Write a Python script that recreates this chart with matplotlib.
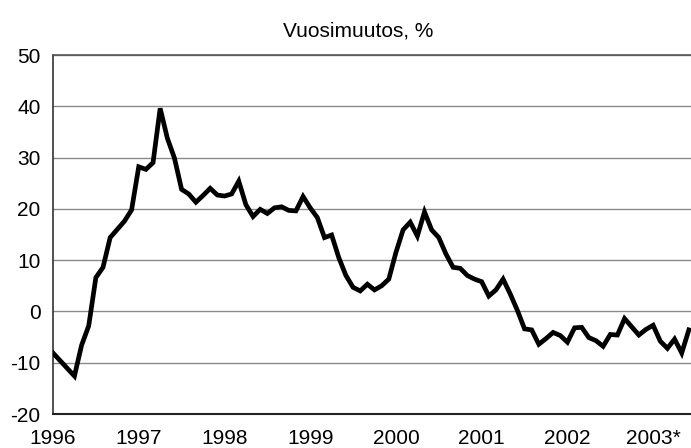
import matplotlib
matplotlib.use("Agg")
import matplotlib.pyplot as plt
import numpy as np

plt.rcParams['font.family'] = ['Liberation Sans Narrow', 'Liberation Sans', 'DejaVu Sans']

# Monthly year-on-year change, %, Jan 1996 - Jun 2003
values = [
    -8.1, -9.6, -11.1, -12.6, -6.6, -2.8, 6.6, 8.6, 14.4, 16.0, 17.6, 19.8,      # 1996
    28.2, 27.7, 29.0, 39.6, 33.8, 29.9, 23.8, 22.9, 21.3, 22.6, 24.0, 22.7,      # 1997
    22.5, 22.9, 25.4, 20.8, 18.5, 19.9, 19.1, 20.2, 20.4, 19.7, 19.6, 22.4,      # 1998
    20.2, 18.3, 14.4, 14.9, 10.5, 7.0, 4.7, 4.0, 5.3, 4.2, 5.0, 6.3,             # 1999
    11.5, 15.9, 17.4, 14.7, 19.4, 15.9, 14.4, 11.2, 8.6, 8.4, 7.0, 6.3,          # 2000
    5.8, 3.0, 4.2, 6.3, 3.4, 0.2, -3.4, -3.6, -6.4, -5.3, -4.1, -4.7,            # 2001
    -6.0, -3.2, -3.1, -5.1, -5.7, -6.8, -4.5, -4.6, -1.4, -3.0, -4.6, -3.5,      # 2002
    -2.7, -5.8, -7.2, -5.4, -8.1, -3.6,                                          # 2003
]
year_labels = ["1996", "1997", "1998", "1999", "2000", "2001", "2002", "2003*"]
y_ticks = [-20, -10, 0, 10, 20, 30, 40, 50]
subtitle = "Vuosimuutos, %"

W, H = 691, 448
fig = plt.figure(figsize=(W / 100, H / 100), dpi=100)
ax = fig.add_axes([53 / W, (H - 414) / H, 1 - 53 / W, (414 - 55) / H])

x = np.arange(len(values))
ax.plot(x, values, color="black", lw=3.4, solid_joinstyle="miter", zorder=3)

ax.set_ylim(-20, 50)
ax.set_xlim(0, 89.3)
ax.set_yticks(y_ticks)
ax.set_yticklabels([str(v) for v in y_ticks])
ax.set_xticks([12 * i for i in range(len(year_labels))])
ax.set_xticklabels(year_labels)
ax.tick_params(axis="both", length=0, labelsize=15, colors="black")
ax.tick_params(axis="y", pad=9)
ax.tick_params(axis="x", pad=11)

ax.grid(axis="y", color="#8a8a8a", lw=1.0, zorder=1)
ax.set_axisbelow(True)
ax.spines["right"].set_visible(False)
ax.spines["top"].set_color("#555555")
ax.spines["top"].set_linewidth(1.2)
ax.spines["left"].set_color("#333333")
ax.spines["left"].set_linewidth(1.2)
ax.spines["bottom"].set_color("#222222")
ax.spines["bottom"].set_linewidth(1.5)

fig.text(358 / W, 1 - 31 / H, subtitle, ha="center", va="center", fontsize=15)

fig.savefig("out.png", dpi=100)
